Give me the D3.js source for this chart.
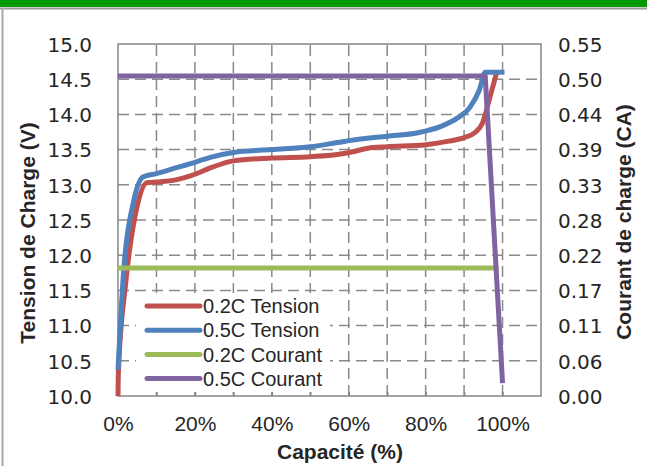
<!DOCTYPE html>
<html>
<head>
<meta charset="utf-8">
<script src="https://cdn.jsdelivr.net/npm/d3@7"></script>
<style>
  html, body { margin: 0; padding: 0; background: #fff; }
  svg { display: block; }
  text { font-family: "Liberation Sans", Arial, sans-serif; fill: #262626; }
</style>
</head>
<body>
<svg id="chart" width="647" height="466"></svg>
<script>
// Capacity (%) and charge voltage (V) for each charge rate
const tension02X = [0, 0.1, 2, 5, 7.5, 10, 15, 20, 24, 30, 40, 50, 57, 61, 65, 70, 80, 86, 90, 93, 94.8, 96.5, 98.5];
const tension02Y = [10.0, 10.33, 11.6, 12.7, 13.03, 13.04, 13.07, 13.15, 13.24, 13.34, 13.38, 13.40, 13.43, 13.47, 13.52, 13.54, 13.57, 13.62, 13.67, 13.75, 13.88, 14.2, 14.6];

const tension05X = [0, 1.5, 4, 6.5, 10, 15, 20, 24, 30, 40, 50, 57, 63, 70, 78, 84, 88, 91.5, 94, 95.5, 100.5];
const tension05Y = [10.37, 11.8, 12.75, 13.11, 13.16, 13.24, 13.32, 13.39, 13.46, 13.5, 13.54, 13.6, 13.65, 13.69, 13.74, 13.83, 13.94, 14.1, 14.35, 14.6, 14.6];

// Charge current (CA)
const courant02X = [0, 99];
const courant02Y = [0.2, 0.2];
const courant05X = [0, 95.5, 100];
const courant05Y = [0.5, 0.5, 0.02];

const seriesNames = ["0.2C Tension", "0.5C Tension", "0.2C Courant", "0.5C Courant"];
const seriesColors = ["#c0504d", "#4f81bd", "#9bbb59", "#8064a2"];

const capaciteTicks = [0, 20, 40, 60, 80, 100];
const capaciteGrid = [10, 20, 30, 40, 50, 60, 70, 80, 90, 100];
const tensionTicks = [10.0, 10.5, 11.0, 11.5, 12.0, 12.5, 13.0, 13.5, 14.0, 14.5, 15.0];
const courantTicks = [0, 0.055, 0.11, 0.165, 0.22, 0.275, 0.33, 0.385, 0.44, 0.495, 0.55];
const courantTickLabels = ["0.00", "0.06", "0.11", "0.17", "0.22", "0.28", "0.33", "0.39", "0.44", "0.50", "0.55"];

const W = 647, H = 466;
const margin = { top: 44, right: 106, bottom: 70, left: 118 };
const svg = d3.select("#chart");

// page frame: green header band and grey outline
svg.append("rect").attr("x", 0).attr("y", 0).attr("width", W).attr("height", 7).attr("fill", "#009a00");
svg.append("line").attr("x1", 0).attr("x2", W).attr("y1", 8.5).attr("y2", 8.5).attr("stroke", "#9a9a9a").attr("stroke-width", 2);
svg.append("line").attr("x1", 2.5).attr("x2", 2.5).attr("y1", 8).attr("y2", H).attr("stroke", "#a8a8a8").attr("stroke-width", 2);

const x = d3.scaleLinear().domain([0, 110]).range([margin.left, W - margin.right]);
const y = d3.scaleLinear().domain([10, 15]).range([H - margin.bottom, margin.top]);
const y2 = d3.scaleLinear().domain([0, 0.55]).range([H - margin.bottom, margin.top]);

const x0 = x.range()[0], x1 = x.range()[1], yb = y.range()[0], yt = y.range()[1];

// dashed grid
const grid = svg.append("g").attr("stroke", "#8a8a8a").attr("stroke-width", 1.5).attr("stroke-dasharray", "11,6");
grid.selectAll("line.v").data(capaciteGrid).join("line")
  .attr("x1", d => x(d)).attr("x2", d => x(d)).attr("y1", yb).attr("y2", yt);
grid.selectAll("line.h").data(tensionTicks.slice(1, -1)).join("line")
  .attr("y1", d => y(d)).attr("y2", d => y(d)).attr("x1", x0).attr("x2", x1);

// plot border
svg.append("rect").attr("x", x0).attr("y", yt).attr("width", x1 - x0).attr("height", yb - yt)
  .attr("fill", "none").attr("stroke", "#858585").attr("stroke-width", 1.5);

// bottom axis: small inner ticks and percentage labels
const xAxis = svg.append("g").attr("transform", `translate(0,${yb})`)
  .call(d3.axisBottom(x).tickValues(capaciteGrid).tickSize(-4).tickFormat(""));
xAxis.select(".domain").remove();
xAxis.selectAll(".tick line").attr("stroke", "#858585").attr("stroke-width", 1.5);

const xLabels = svg.append("g").attr("transform", `translate(0,${yb})`)
  .call(d3.axisBottom(x).tickValues(capaciteTicks).tickSize(0).tickPadding(0).tickFormat(d => d + "%"));
xLabels.select(".domain").remove();
xLabels.selectAll(".tick text").attr("y", 35).attr("dy", 0)
  .style("font-size", "21px").style("fill", "#262626").style("font-family", "'Liberation Sans', Arial, sans-serif");

// left axis (voltage)
const yAxis = svg.append("g").attr("transform", `translate(${x0},0)`)
  .call(d3.axisLeft(y).tickValues(tensionTicks).tickSize(0).tickPadding(26).tickFormat(d3.format(".1f")));
yAxis.select(".domain").remove();
yAxis.selectAll(".tick text").attr("dy", "0.36em")
  .style("font-size", "20px").style("fill", "#262626").style("font-family", "'DejaVu Sans', sans-serif");

// right axis (current)
const y2Axis = svg.append("g").attr("transform", `translate(${x1},0)`)
  .call(d3.axisRight(y2).tickValues(courantTicks).tickSize(0).tickPadding(17)
    .tickFormat((d, i) => courantTickLabels[i]));
y2Axis.select(".domain").remove();
y2Axis.selectAll(".tick text").attr("dy", "0.36em")
  .style("font-size", "20px").style("fill", "#262626").style("font-family", "'DejaVu Sans', sans-serif");

// axis titles
svg.append("text").attr("transform", `translate(35,233) rotate(-90)`).attr("text-anchor", "middle")
  .style("font-size", "21px").style("font-weight", "bold").text("Tension de Charge (V)");
svg.append("text").attr("transform", `translate(631,222) rotate(-90)`).attr("text-anchor", "middle")
  .style("font-size", "21px").style("font-weight", "bold").text("Courant de charge (CA)");
svg.append("text").attr("x", 340).attr("y", 459).attr("text-anchor", "middle")
  .style("font-size", "21px").style("font-weight", "bold").text("Capacité (%)");

// series
const toPts = (xs, ys) => xs.map((v, i) => [v, ys[i]]);
const lineV = d3.line().x(d => x(d[0])).y(d => y(d[1])).curve(d3.curveMonotoneX);
const lineC = d3.line().x(d => x(d[0])).y(d => y2(d[1]));

const plot = svg.append("g").attr("fill", "none").attr("stroke-width", 5)
  .attr("stroke-linejoin", "round").attr("stroke-linecap", "butt");
plot.append("path").datum(toPts(tension02X, tension02Y)).attr("d", lineV).attr("stroke", seriesColors[0]);
plot.append("path").datum(toPts(tension05X, tension05Y)).attr("d", lineV).attr("stroke", seriesColors[1]);
plot.append("path").datum(toPts(courant02X, courant02Y)).attr("d", lineC).attr("stroke", seriesColors[2]);
plot.append("path").datum(toPts(courant05X, courant05Y)).attr("d", lineC).attr("stroke", seriesColors[3]);

// legend
const legend = svg.append("g");
legend.append("rect").attr("x", 136).attr("y", 293).attr("width", 194).attr("height", 99).attr("fill", "#fff");
const rows = legend.selectAll("g.row").data(seriesNames).join("g")
  .attr("transform", (d, i) => `translate(147,${306 + i * 24.2})`);
rows.append("line").attr("x1", 0).attr("x2", 53).attr("y1", 0).attr("y2", 0)
  .attr("stroke", (d, i) => seriesColors[i]).attr("stroke-width", 5).attr("stroke-linecap", "round");
rows.append("text").attr("x", 56).attr("y", 0).attr("dy", "0.36em")
  .style("font-size", "20px").text(d => d);
</script>
</body>
</html>
